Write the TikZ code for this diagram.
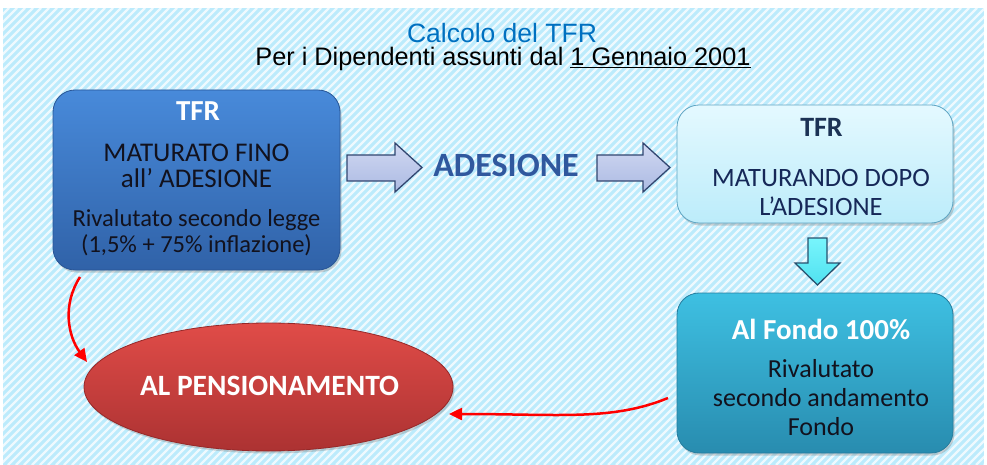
\documentclass[tikz,border=0pt]{standalone}
\usepackage{fontspec}
\setmainfont{Carlito}
\newfontfamily\titlefont{Liberation Sans}
\usetikzlibrary{arrows.meta,shadows,shapes.geometric}
\definecolor{bgcyan}{RGB}{188,235,252}
\definecolor{titleblue}{RGB}{0,112,192}
\definecolor{bonetop}{RGB}{72,138,218}
\definecolor{bonebot}{RGB}{48,98,168}
\definecolor{boneborder}{RGB}{40,85,150}
\definecolor{btwotop}{RGB}{228,249,255}
\definecolor{btwobot}{RGB}{188,236,250}
\definecolor{btwoborder}{RGB}{95,165,195}
\definecolor{bthreetop}{RGB}{62,192,226}
\definecolor{bthreebot}{RGB}{40,140,175}
\definecolor{bthreeborder}{RGB}{38,125,158}
\definecolor{elltop}{RGB}{224,76,72}
\definecolor{ellbot}{RGB}{172,50,50}
\definecolor{ellborder}{RGB}{150,40,40}
\definecolor{arrtop}{RGB}{208,216,242}
\definecolor{arrbot}{RGB}{172,186,226}
\definecolor{arrborder}{RGB}{50,70,112}
\definecolor{downtop}{RGB}{120,245,252}
\definecolor{downbot}{RGB}{80,225,240}
\definecolor{downborder}{RGB}{40,80,110}
\definecolor{adblue}{RGB}{48,88,158}
\definecolor{navytxt}{RGB}{22,40,88}
\definecolor{tfrdark}{RGB}{28,50,85}
\definecolor{darktxt}{RGB}{18,18,30}
\begin{document}
\begin{tikzpicture}[x=1pt,y=-1pt,
  boxbase/.style={rounded corners=22pt, draw, line width=0.8pt, inner sep=0pt,
    drop shadow={opacity=0.35,shadow xshift=1.5pt,shadow yshift=-2.5pt}},
  boxone/.style={boxbase, top color=bonetop, bottom color=bonebot, draw=boneborder},
  boxtwo/.style={boxbase, top color=btwotop, bottom color=btwobot, draw=btwoborder},
  boxthree/.style={boxbase, top color=bthreetop, bottom color=bthreebot, draw=bthreeborder},
  pension/.style={ellipse, draw=ellborder, line width=0.8pt, top color=elltop, bottom color=ellbot, inner sep=0pt,
    drop shadow={opacity=0.35,shadow xshift=1.5pt,shadow yshift=-2.5pt}},
  txt/.style={anchor=base, inner sep=0pt},
  blockarrow/.style={draw=arrborder, line width=1.3pt, top color=arrtop, bottom color=arrbot, line join=miter},
  downarrow/.style={draw=downborder, line width=1.3pt, top color=downtop, bottom color=downbot, line join=miter},
  redarrow/.style={draw=red, line width=2.5pt, -{Triangle[width=12pt,length=13pt]}}
]
\useasboundingbox (0,0) rectangle (987,465);
% background
\fill[white] (0,0) rectangle (987,465);
\fill[bgcyan] (3,8) rectangle (984,465);
\begin{scope}
  \clip (3,8) rectangle (984,465);
  \foreach \i in {-480,-472,...,984}
    \draw[white, line width=2.2pt, opacity=0.75] (\i,465) -- (\i+457,8);
\end{scope}

% titles
\node[txt, text=titleblue] (title) at (502,43) {\titlefont\fontsize{26.5}{30}\selectfont Calcolo del TFR};
\node[txt, text=black] (subtitle) at (503,66) {\titlefont\fontsize{25.3}{28}\selectfont Per i Dipendenti assunti dal \underline{1 Gennaio 2001}};

% boxes
\node[boxone, minimum width=287pt, minimum height=180pt] (b1) at (196.5,180) {};
\node[boxtwo, minimum width=276pt, minimum height=118pt] (b2) at (815,164) {};
\node[boxthree, minimum width=276pt, minimum height=160pt] (b3) at (815,373) {};
\node[pension, minimum width=369pt, minimum height=128pt] (ell) at (268.5,387) {};

% box 1 text
\node[txt, text=white] (b1t) at (198,121) {\fontsize{29}{32}\selectfont\bfseries TFR};
\node[txt, text=darktxt] (b1a) at (196.5,162) {\fontsize{27}{30}\selectfont MATURATO FINO};
\node[txt, text=darktxt] (b1b) at (196.5,187) {\fontsize{27}{30}\selectfont all’ ADESIONE};
\node[txt, text=darktxt] (b1c) at (196.5,226.5) {\fontsize{24.5}{28}\selectfont Rivalutato secondo legge};
\node[txt, text=darktxt] (b1d) at (196.5,252.5) {\fontsize{24.5}{28}\selectfont (1,5\% + 75\% inflazione)};

% box 2 text
\node[txt, text=tfrdark] (b2t) at (821.5,137) {\fontsize{28}{30}\selectfont\bfseries TFR};
\node[txt, text=navytxt] (b2a) at (821,186.5) {\fontsize{26.5}{30}\selectfont MATURANDO DOPO};
\node[txt, text=navytxt] (b2b) at (821,215) {\fontsize{26.5}{30}\selectfont L’ADESIONE};

% box 3 text
\node[txt, text=white] (b3t) at (821,339) {\fontsize{29}{32}\selectfont\bfseries Al Fondo 100\%};
\node[txt, text=darktxt] (b3a) at (821,377) {\fontsize{26}{30}\selectfont Rivalutato};
\node[txt, text=darktxt] (b3b) at (821,406.5) {\fontsize{26}{30}\selectfont secondo andamento};
\node[txt, text=darktxt] (b3c) at (821,435) {\fontsize{26}{30}\selectfont Fondo};

% ellipse text
\node[txt, text=white] (ellt) at (269.5,395) {\fontsize{29.5}{32}\selectfont\bfseries AL PENSIONAMENTO};

% ADESIONE
\node[txt, text=adblue] (ades) at (506,177) {\fontsize{34}{36}\selectfont\bfseries ADESIONE};

% block arrows
\draw[blockarrow] (347,155) -- (395,155) -- (395,143) -- (422,167.5) -- (395,192) -- (395,181) -- (347,181) -- cycle;
\draw[blockarrow] (597,155) -- (643,155) -- (643,143) -- (670,167.5) -- (643,192) -- (643,181) -- (597,181) -- cycle;
\draw[downarrow] (808,238) -- (827,238) -- (827,263) -- (840,263) -- (817.5,285) -- (795,263) -- (808,263) -- cycle;

% red connectors
\coordinate (r1s) at (80,277);
\coordinate (r1e) at (87,362);
\coordinate (r2s) at (668,398);
\coordinate (r2e) at (449,414);
\draw[redarrow] (r1s) .. controls (62,305) and (68,336) .. (r1e);
\draw[redarrow] (r2s) .. controls (612,421) and (560,414) .. (r2e);
\end{tikzpicture}
\end{document}
